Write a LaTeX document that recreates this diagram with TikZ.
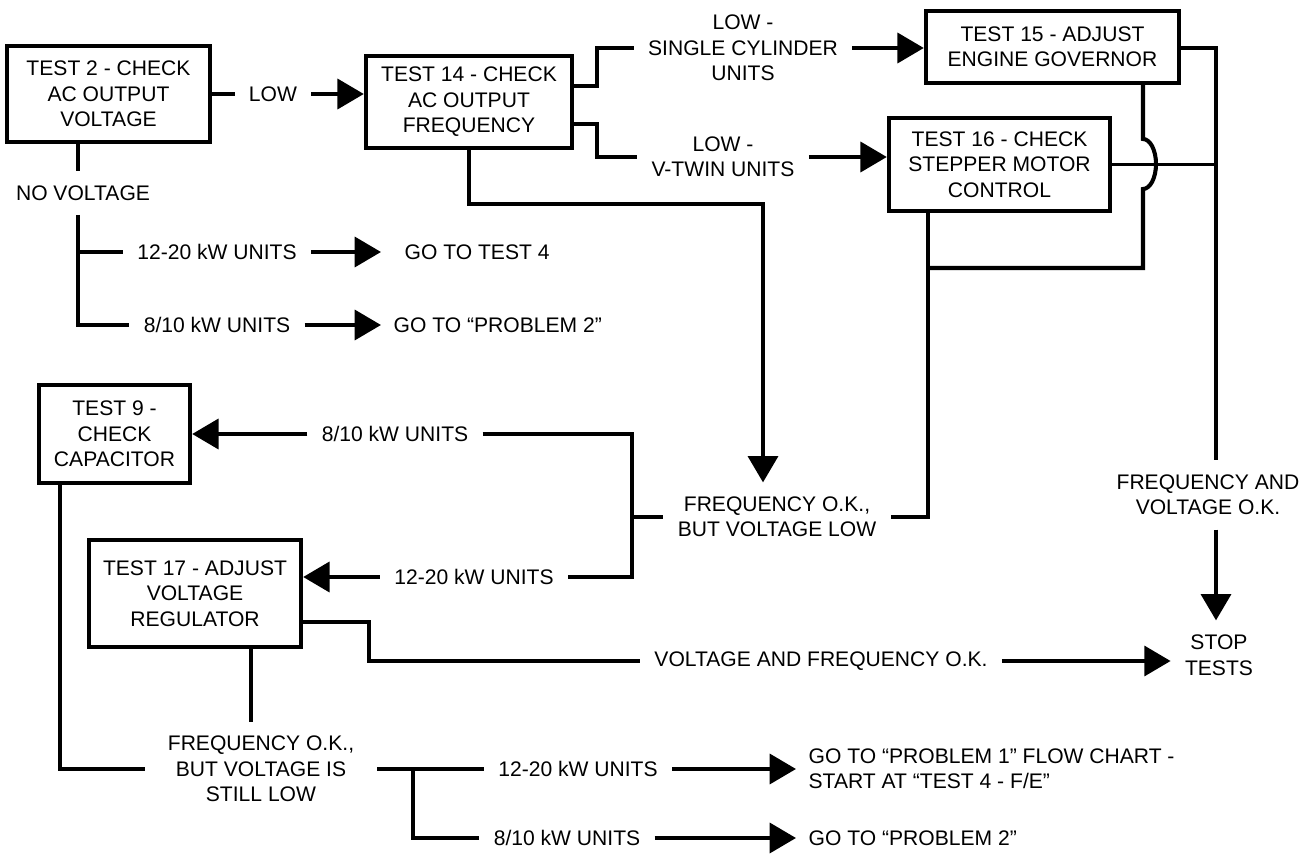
\documentclass[tikz,border=0pt]{standalone}
\usepackage{fontspec}
\setmainfont{Liberation Sans}
\usetikzlibrary{positioning,arrows.meta}
\tikzset{
  tbox/.style={draw,line width=2.5pt,align=center,inner sep=0pt,
    font=\fontsize{12}{14.5}\selectfont},
  lbl/.style={align=center,inner xsep=8pt,inner ysep=8pt,
    font=\fontsize{12}{14.5}\selectfont},
  dest/.style={anchor=west,align=left,inner xsep=7pt,inner ysep=2pt,
    font=\fontsize{12}{14.5}\selectfont},
  edgeL/.style={line width=2.3pt},
  edgeT/.style={line width=1.8pt},
  edgeA/.style={line width=2.3pt,-{Triangle[length=15pt,width=17pt]}},
}

\begin{document}
\begin{tikzpicture}[x=0.02cm,y=-0.02cm]
  \useasboundingbox (0,0) rectangle (1306,855);
  \node[tbox,minimum width=4.06cm,minimum height=1.92cm] (t2) at (108.5,94) {TEST 2 - CHECK\\AC OUTPUT\\VOLTAGE};
  \node[tbox,minimum width=4.12cm,minimum height=1.84cm] (t14) at (469,102) {TEST 14 - CHECK\\AC OUTPUT\\FREQUENCY};
  \node[tbox,minimum width=5.06cm,minimum height=1.44cm] (t15) at (1052.5,47) {TEST 15 - ADJUST\\ENGINE GOVERNOR};
  \node[tbox,minimum width=4.42cm,minimum height=1.86cm] (t16) at (999.5,164.5) {TEST 16 - CHECK\\STEPPER MOTOR\\CONTROL};
  \node[tbox,minimum width=3.02cm,minimum height=1.96cm] (t9) at (114.5,434) {TEST 9 -\\CHECK\\CAPACITOR};
  \node[tbox,minimum width=4.24cm,minimum height=2.14cm] (t17) at (195,593.5) {TEST 17 - ADJUST\\VOLTAGE\\REGULATOR};
  \node[lbl] (low) at (273,94) {LOW};
  \node[lbl] (single) at (743,48) {LOW -\\SINGLE CYLINDER\\UNITS};
  \node[lbl] (vtwin) at (723,157) {LOW -\\V-TWIN UNITS};
  \node[lbl] (novolt) at (83,193) {NO VOLTAGE};
  \node[lbl] (kwA) at (217,252) {12-20 kW UNITS};
  \node[lbl] (kwB) at (217,325) {8/10 kW UNITS};
  \node[dest] (goA) at (392,252) {GO TO TEST 4};
  \node[dest] (goB) at (381,325) {GO TO “PROBLEM 2”};
  \node[lbl] (kwC) at (395,434) {8/10 kW UNITS};
  \node[lbl] (kwD) at (474,577) {12-20 kW UNITS};
  \node[lbl] (freqA) at (777,517) {FREQUENCY O.K.,\\BUT VOLTAGE LOW};
  \node[lbl] (frok) at (1208,495) {FREQUENCY AND\\VOLTAGE O.K.};
  \node[lbl] (stop) at (1219,655) {STOP\\TESTS};
  \node[lbl] (vok) at (821,661) {VOLTAGE AND FREQUENCY O.K.};
  \node[lbl,inner xsep=13pt] (fstill) at (261,769) {FREQUENCY O.K.,\\BUT VOLTAGE IS\\STILL LOW};
  \node[lbl] (kwE) at (578,769) {12-20 kW UNITS};
  \node[lbl] (kwF) at (567,838) {8/10 kW UNITS};
  \node[dest] (goC) at (796,769) {GO TO “PROBLEM 1” FLOW CHART -\\START AT “TEST 4 - F/E”};
  \node[dest] (goD) at (796,838) {GO TO “PROBLEM 2”};
  \coordinate (s14a) at (597,86);
  \coordinate (s14b) at (597,124);
  \coordinate (c14) at (763,204);
  \coordinate (rv) at (1216,48);
  \coordinate (hop) at (1143,164);
  \coordinate (j16) at (928,268);
  \coordinate (nv) at (78,325);
  \coordinate (brk) at (632,517);
  \coordinate (k17) at (369,622);
  \coordinate (c9) at (60,767);
  \coordinate (c17) at (251,650);
  \coordinate (br2) at (413,838);
  \draw[edgeL] (t2.east) -- (low.west);
  \draw[edgeA] (low.east) -- (low.east -| t14.west);
  \draw[edgeL] (t2.south -| nv) -- (nv |- novolt.north);
  \draw[edgeL] (nv |- novolt.south) |- (kwB.west);
  \draw[edgeL] (nv |- kwA.west) -- (kwA.west);
  \draw[edgeA] (kwA.east) -- (kwA.east -| goB.west);
  \draw[edgeA] (kwB.east) -- (goB.west);
  \draw[edgeL] (t14.east |- s14a) -- (s14a) |- (single.west);
  \draw[edgeA] (single.east) -- (single.east -| t15.west);
  \draw[edgeL] (t14.east |- s14b) -- (s14b) |- (vtwin.west);
  \draw[edgeA] (vtwin.east) -- (vtwin.east -| t16.west);
  \draw[edgeA] (t14.south) |- (c14) -- (c14 |- freqA.north);
  \draw[edgeL] (t15.east |- rv) -- (rv) -- (rv |- frok.north);
  \draw[edgeA] (rv |- frok.south) -- (rv |- stop.north);
  \draw[edgeT] (t16.east) -- (t16.east -| rv);
  \draw[edgeL] (t15.south -| hop) -- ([yshift=0.5cm]hop)
    arc[start angle=90,end angle=-90,x radius=0.26cm,y radius=0.5cm] |- (j16);
  \draw[edgeL] (t16.south -| j16) |- (freqA.east);
  \draw[edgeL] (kwC.east) -| (brk) |- (kwD.east);
  \draw[edgeL] (brk) -- (freqA.west);
  \draw[edgeA] (kwC.west) -- (t9.east);
  \draw[edgeA] (kwD.west) -- (kwD.west -| t17.east);
  \draw[edgeL] (t17.east |- k17) -- (k17) |- (vok.west);
  \draw[edgeA] (vok.east) -- (vok.east -| stop.west);
  \draw[edgeL] (t9.south -| c9) |- (fstill.west);
  \draw[edgeL] (t17.south -| c17) -- (c17 |- fstill.north);
  \draw[edgeL] (fstill.east) -- (kwE.west);
  \draw[edgeL] (br2 |- kwE.west) |- (kwF.west);
  \draw[edgeA] (kwE.east) -- (kwE.east -| goC.west);
  \draw[edgeA] (kwF.east) -- (goD.west);
\end{tikzpicture}
\end{document}
